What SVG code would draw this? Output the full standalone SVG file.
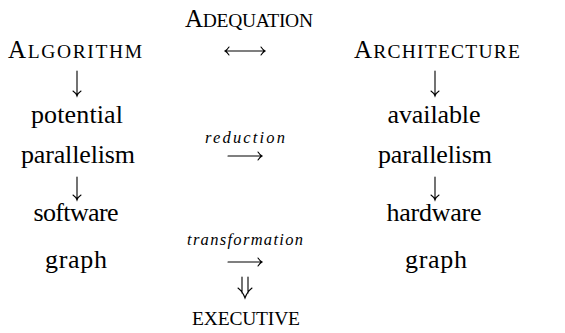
<svg xmlns="http://www.w3.org/2000/svg" width="565" height="333" viewBox="0 0 565 333">
<style>
text{font-family:"Liberation Serif","Times New Roman",serif;fill:#000;text-anchor:middle}
.rm{font-size:26px}
.cap{font-size:25px}
.sc{font-size:19.5px}
.it{font-size:16.5px;font-style:italic}
.ar{fill:none;stroke:#000;stroke-width:1.1;stroke-linecap:round}
</style>
<rect width="565" height="333" fill="#fff"/>
<g font-family="Liberation Serif, serif">
<g id="adequation"><text x="249" y="27" textLength="128" lengthAdjust="spacing"><tspan class="cap">A</tspan><tspan class="sc">DEQUATION</tspan></text></g>
<g id="algorithm"><text x="75" y="58" textLength="134" lengthAdjust="spacing"><tspan class="cap">A</tspan><tspan class="sc">LGORITHM</tspan></text></g>
<g id="architecture"><text x="437" y="58" textLength="166" lengthAdjust="spacing"><tspan class="cap">A</tspan><tspan class="sc">RCHITECTURE</tspan></text></g>
<g id="potential-parallelism"><text class="rm" x="77" y="123" textLength="92" lengthAdjust="spacing">potential</text><text class="rm" x="78" y="163" textLength="114" lengthAdjust="spacing">parallelism</text></g>
<g id="available-parallelism"><text class="rm" x="434" y="123" textLength="93" lengthAdjust="spacing">available</text><text class="rm" x="435" y="163" textLength="114" lengthAdjust="spacing">parallelism</text></g>
<g id="software-graph"><text class="rm" x="76" y="221" textLength="85" lengthAdjust="spacing">software</text><text class="rm" x="76" y="268" textLength="62" lengthAdjust="spacing">graph</text></g>
<g id="hardware-graph"><text class="rm" x="434" y="221" textLength="95" lengthAdjust="spacing">hardware</text><text class="rm" x="436" y="268" textLength="62" lengthAdjust="spacing">graph</text></g>
<g id="executive"><text class="sc" x="246" y="325" textLength="108" lengthAdjust="spacing">EXECUTIVE</text></g>
<g id="connectors">
<path class="ar" d="M225,51 H265 M229,47 Q227,50 225,51 Q227,52 229,55 M261,47 Q263,50 265,51 Q263,52 261,55"/>
<path class="ar" d="M77,71 V96 M73,91 Q76,93 77,96 Q78,93 81,91"/>
<path class="ar" d="M435,71 V96 M431,91 Q434,93 435,96 Q436,93 439,91"/>
<path class="ar" d="M77,177 V200 M73,195 Q76,197 77,200 Q78,197 81,195"/>
<path class="ar" d="M435,177 V200 M431,195 Q434,197 435,200 Q436,197 439,195"/>
<text class="it" x="245" y="143" textLength="80" lengthAdjust="spacing">reduction</text>
<path class="ar" d="M228,156 H262 M258,152 Q260,155 262,156 Q260,157 258,160"/>
<text class="it" x="245" y="245" textLength="116" lengthAdjust="spacing">transformation</text>
<path class="ar" d="M228,262 H262 M258,258 Q260,261 262,262 Q260,263 258,266"/>
<path class="ar" d="M242,277 V293 M248,277 V293 M238,288 Q243,292 245,298 Q247,292 252,288"/>
</g>
</g>
</svg>
